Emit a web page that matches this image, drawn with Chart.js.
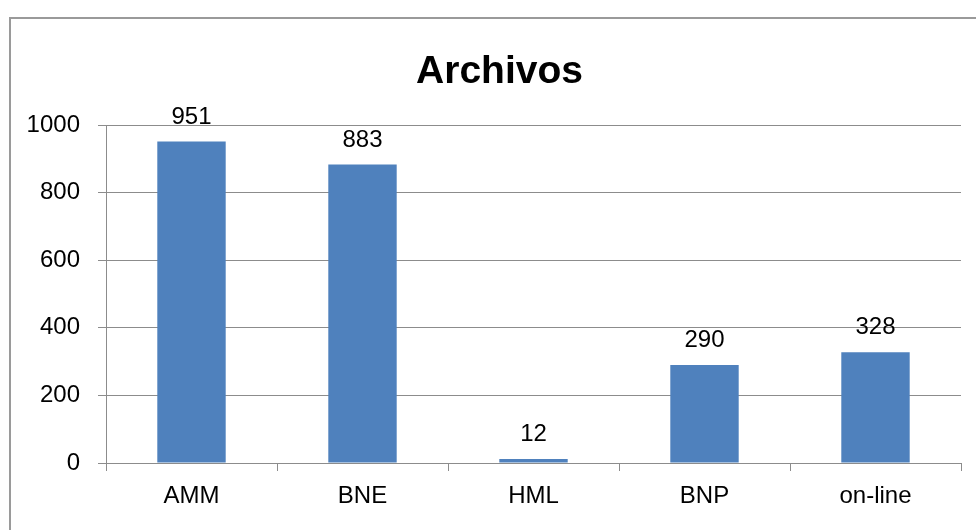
<!DOCTYPE html>
<html>
<head>
<meta charset="utf-8">
<script src="https://cdn.jsdelivr.net/npm/chart.js@4/dist/chart.umd.min.js"></script>
<style>
  html, body { margin: 0; padding: 0; background: #fff; }
  #wrap { position: relative; width: 976px; height: 530px; }
  #frame { position: absolute; left: 9px; top: 17px; right: -2px; bottom: -2px; border: 2px solid #9a9a9a; }
  canvas { position: absolute; left: 0; top: 0; }
</style>
</head>
<body>
<div id="wrap">
  <div id="frame"></div>
  <canvas id="barChart" width="976" height="530"></canvas>
</div>
<script>
// chart data
const categories = ['AMM', 'BNE', 'HML', 'BNP', 'on-line'];
const archivos = [951, 883, 12, 290, 328];
const yTicks = [0, 200, 400, 600, 800, 1000];

const fontFamily = '"Liberation Sans", Arial, sans-serif';

// title and value labels drawn by hand
const labelsPlugin = {
    id: 'labels',
    afterDatasetsDraw(chart) {
        const ctx = chart.ctx;
        ctx.save();
        ctx.fillStyle = '#000';
        ctx.textAlign = 'center';
        ctx.textBaseline = 'alphabetic';
        ctx.font = 'bold 39px ' + fontFamily;
        ctx.fillText('Archivos', (chart.chartArea.left + chart.chartArea.right) / 2 - 34, 83);

        ctx.font = '24px ' + fontFamily;
        const meta = chart.getDatasetMeta(0);
        meta.data.forEach(function (bar, i) {
            ctx.fillText(String(archivos[i]), bar.x, bar.y - 18);
        });
        ctx.restore();
    }
};

new Chart(document.getElementById('barChart'), {
    type: 'bar',
    data: {
        labels: categories,
        datasets: [{
            label: 'Archivos',
            data: archivos,
            backgroundColor: '#4f81bd',
            borderWidth: 0,
            categoryPercentage: 1,
            barPercentage: 0.4
        }]
    },
    options: {
        responsive: false,
        animation: false,
        layout: { padding: { top: 125, right: 15, left: 0, bottom: 0 } },
        plugins: {
            legend: { display: false },
            title: { display: false },
            tooltip: { enabled: false }
        },
        scales: {
            x: {
                afterFit: function (scale) { scale.height = 67; },
                grid: {
                    offset: true,
                    drawOnChartArea: false,
                    color: '#8c8c8c',
                    tickLength: 8
                },
                border: { color: '#8c8c8c', width: 1 },
                ticks: {
                    color: '#000',
                    padding: 11,
                    font: { family: fontFamily, size: 24 }
                }
            },
            y: {
                min: 0,
                max: 1000,
                afterFit: function (scale) { scale.width = 106; },
                afterBuildTicks: function (scale) {
                    scale.ticks = yTicks.map(function (v) { return { value: v }; });
                },
                grid: { color: '#8c8c8c', tickLength: 8 },
                border: { color: '#8c8c8c', width: 1 },
                ticks: {
                    color: '#000',
                    padding: 18,
                    font: { family: fontFamily, size: 24 },
                    callback: function (value) { return String(value); }
                }
            }
        }
    },
    plugins: [labelsPlugin]
});
</script>
</body>
</html>
